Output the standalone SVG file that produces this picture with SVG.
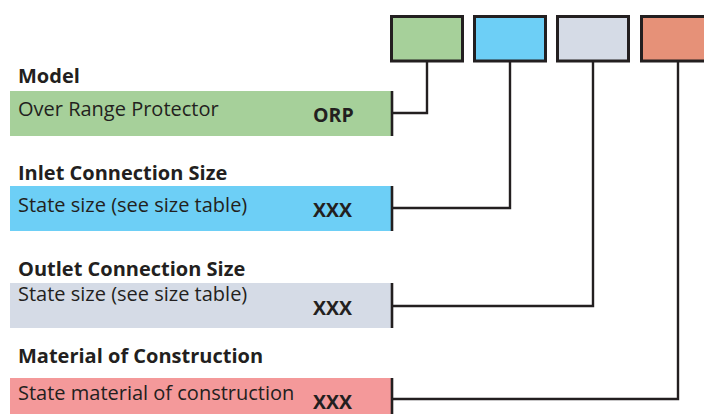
<svg xmlns="http://www.w3.org/2000/svg" width="704" height="414" viewBox="0 0 704 414">
<style>
.hd{font-family:"Open Sans","Noto Sans","Liberation Sans",sans-serif;font-weight:700;font-size:20px;fill:#231f20}
.tx{font-family:"Open Sans","Noto Sans","Liberation Sans",sans-serif;font-weight:400;font-size:20px;fill:#231f20}
.cd{font-family:"Open Sans","Noto Sans","Liberation Sans",sans-serif;font-weight:700;font-size:19.5px;fill:#231f20}
.box{stroke:#231f20;stroke-width:3}
.bar{fill:none;stroke:#231f20;stroke-width:2.6}
.ln{fill:none;stroke:#231f20;stroke-width:2.4;stroke-linejoin:miter;stroke-linecap:square}
</style>
<rect width="704" height="414" fill="#ffffff"/>
<g id="code-boxes">
<rect class="box" x="391.5" y="16.5" width="71" height="44.5" fill="#a6d09a"/>
<rect class="box" x="474.5" y="16.5" width="71" height="44.5" fill="#6dcff6"/>
<rect class="box" x="557.5" y="16.5" width="71" height="44.5" fill="#d5dbe6"/>
<rect class="box" x="641.5" y="16.5" width="71" height="44.5" fill="#e69178"/>
</g>
<g id="model">
<text class="hd" x="18" y="83">Model</text>
<rect x="10" y="91" width="381" height="45" fill="#a6d09a"/>
<text class="tx" x="18" y="116">Over Range Protector</text>
<text class="cd" x="313" y="122">ORP</text>
<line class="bar" x1="392" y1="91" x2="392" y2="136"/>
</g>
<g id="inlet">
<text class="hd" x="18" y="180">Inlet Connection Size</text>
<rect x="10" y="186" width="381" height="45" fill="#6dcff6"/>
<text class="tx" x="18" y="212">State size (see size table)</text>
<text class="cd" x="313" y="217">XXX</text>
<line class="bar" x1="392" y1="186" x2="392" y2="231"/>
</g>
<g id="outlet">
<text class="hd" x="18" y="276">Outlet Connection Size</text>
<rect x="10" y="283" width="381" height="45" fill="#d5dbe6"/>
<text class="tx" x="18" y="301">State size (see size table)</text>
<text class="cd" x="313" y="315">XXX</text>
<line class="bar" x1="392" y1="283" x2="392" y2="328"/>
</g>
<g id="material">
<text class="hd" x="18" y="363">Material of Construction</text>
<rect x="10" y="378" width="381" height="36" fill="#f4999a"/>
<text class="tx" x="18" y="400">State material of construction</text>
<text class="cd" x="313" y="409">XXX</text>
<line class="bar" x1="392" y1="378" x2="392" y2="414"/>
</g>
<g id="connectors">
<polyline class="ln" points="427,62 427,113 393,113"/>
<polyline class="ln" points="510,62 510,208 393,208"/>
<polyline class="ln" points="593,62 593,306 393,306"/>
<polyline class="ln" points="678,62 678,399 393,399"/>
</g>
</svg>
